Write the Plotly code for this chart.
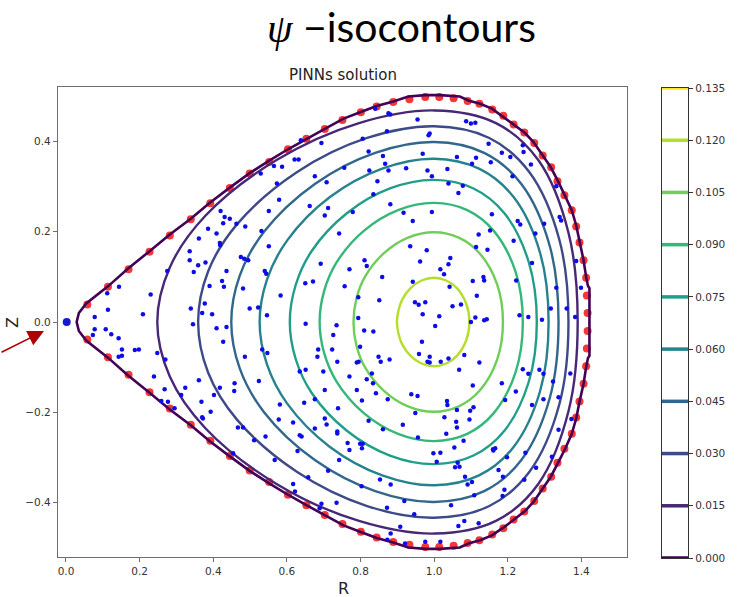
import plotly.graph_objects as go

# ---------------- data ----------------
# contour levels of psi (colour scale spans 0 .. 0.135)
LEVELS = [0.0, 0.015, 0.030, 0.045, 0.060, 0.075, 0.090, 0.105, 0.120, 0.135]
LEVEL_COLORS = ["#440154", "#472877", "#3e4a88", "#31678d", "#26838e",
                "#209e88", "#35b779", "#6ece58", "#b5de2b", "#fde725"]
CBAR_TICKS = ["0.000", "0.015", "0.030", "0.045", "0.060",
              "0.075", "0.090", "0.105", "0.120", "0.135"]

# psi = 0 boundary, upper half (right mid-plane -> top -> left tip)
BND_R = [1.422, 1.422, 1.418, 1.413, 1.406, 1.395, 1.386, 1.374, 1.356, 1.338,
         1.317, 1.293, 1.270, 1.247, 1.216, 1.188, 1.157, 1.125, 1.093, 1.070,
         1.016, 0.976, 0.930, 0.889, 0.844, 0.799, 0.754, 0.703, 0.653, 0.603,
         0.551, 0.499, 0.445, 0.390, 0.339, 0.282, 0.227, 0.168, 0.114, 0.055,
         0.035, 0.029]
BND_Z = [0.000, 0.075, 0.080, 0.100, 0.137, 0.177, 0.214, 0.248, 0.281, 0.310,
         0.343, 0.373, 0.399, 0.419, 0.438, 0.456, 0.473, 0.484, 0.491, 0.500,
         0.503, 0.503, 0.500, 0.489, 0.479, 0.465, 0.451, 0.428, 0.406, 0.383,
         0.357, 0.330, 0.298, 0.264, 0.229, 0.194, 0.157, 0.118, 0.079, 0.041,
         0.020, 0.000]

# inner iso-psi curves (levels 0.015 .. 0.120), upper half, right -> top -> left
CONTOUR_R = [
    [1.390, 1.365, 1.283, 1.168, 1.002, 0.796, 0.572, 0.378, 0.282, 0.248],
    [1.365, 1.340, 1.259, 1.150, 1.000, 0.818, 0.627, 0.465, 0.386, 0.359],
    [1.338, 1.314, 1.237, 1.136, 1.000, 0.840, 0.676, 0.538, 0.472, 0.449],
    [1.311, 1.288, 1.216, 1.122, 1.000, 0.859, 0.717, 0.601, 0.546, 0.526],
    [1.279, 1.257, 1.191, 1.107, 1.000, 0.880, 0.763, 0.668, 0.624, 0.608],
    [1.241, 1.221, 1.162, 1.090, 1.000, 0.902, 0.809, 0.735, 0.701, 0.689],
    [1.187, 1.171, 1.124, 1.067, 1.000, 0.929, 0.863, 0.812, 0.789, 0.781],
    [1.096, 1.087, 1.062, 1.033, 1.000, 0.966, 0.936, 0.913, 0.903, 0.899],
]
CONTOUR_Z = [
    [0.000, 0.198, 0.359, 0.441, 0.469, 0.441, 0.359, 0.235, 0.121, 0.000],
    [0.000, 0.183, 0.332, 0.408, 0.434, 0.408, 0.332, 0.217, 0.112, 0.000],
    [0.000, 0.169, 0.306, 0.375, 0.399, 0.375, 0.306, 0.200, 0.103, 0.000],
    [0.000, 0.153, 0.277, 0.340, 0.362, 0.340, 0.277, 0.181, 0.094, 0.000],
    [0.000, 0.133, 0.241, 0.296, 0.315, 0.296, 0.241, 0.158, 0.082, 0.000],
    [0.000, 0.112, 0.202, 0.248, 0.264, 0.248, 0.202, 0.132, 0.068, 0.000],
    [0.000, 0.084, 0.152, 0.187, 0.199, 0.187, 0.152, 0.100, 0.052, 0.000],
    [0.000, 0.041, 0.075, 0.092, 0.098, 0.092, 0.075, 0.049, 0.025, 0.000],
]

# boundary collocation points (upper half, mirrored for the lower half)
BC_R = [0.058, 0.114, 0.170, 0.227, 0.282, 0.339, 0.392, 0.445, 0.499, 0.552,
        0.603, 0.653, 0.703, 0.751, 0.801, 0.844, 0.889, 0.933, 0.976, 1.014,
        1.053, 1.091, 1.123, 1.158, 1.188, 1.216, 1.245, 1.272, 1.295, 1.318,
        1.335, 1.354, 1.374, 1.386, 1.395, 1.406, 1.413, 1.415, 1.417]
BC_Z = [0.039, 0.078, 0.117, 0.156, 0.192, 0.228, 0.263, 0.297, 0.329, 0.355,
        0.383, 0.406, 0.428, 0.448, 0.465, 0.478, 0.488, 0.494, 0.499, 0.499,
        0.496, 0.490, 0.484, 0.471, 0.457, 0.438, 0.420, 0.397, 0.369, 0.343,
        0.312, 0.281, 0.248, 0.212, 0.176, 0.137, 0.098, 0.059, 0.020]

# interior collocation points
COL_R = [
    0.638, 0.694, 0.621, 0.632, 0.565, 0.587, 0.529, 0.573, 0.756, 0.676,
    0.708, 0.579, 0.662, 0.712, 0.703, 0.551, 0.420, 0.431, 0.427, 0.445,
    0.463, 0.487, 0.386, 0.409, 0.361, 0.418, 0.419, 0.531, 0.551, 0.742,
    0.336, 0.475, 0.484, 0.495, 0.336, 0.359, 0.379, 0.347, 0.436, 0.540,
    0.544, 0.692, 0.275, 0.144, 0.112, 0.230, 0.390, 0.429, 0.424, 0.481,
    0.650, 0.671, 0.583, 0.757, 0.114, 0.078, 0.209, 0.339, 0.377, 0.370,
    0.397, 0.499, 0.522, 0.546, 0.651, 0.735, 0.345, 0.436,
    0.840, 0.876, 0.881, 0.955, 1.087, 1.100, 1.112, 0.988, 0.985, 0.872,
    0.806, 0.822, 0.861, 0.969, 1.148, 1.184, 1.241, 1.243, 1.207, 1.114,
    1.062, 1.103, 1.154, 0.824, 0.867, 0.876, 0.924, 0.982, 1.036, 0.994,
    0.846, 1.213, 1.263, 1.039, 1.078, 1.066, 1.332, 0.835, 0.881, 0.779,
    0.917, 0.994, 1.157, 0.942, 1.341, 1.345, 1.227, 1.234, 1.299, 1.152,
    1.121, 1.275, 1.216, 1.114, 1.145, 0.935, 0.980, 0.811, 0.817, 0.962,
    1.044, 1.039, 1.017, 0.770, 1.266, 1.386, 0.859, 0.942, 1.027, 1.105,
    1.134, 1.136, 1.223, 1.332, 0.794, 0.851, 1.042, 1.116, 0.948, 0.958,
    0.976, 1.050, 1.073, 0.969, 1.014, 0.794, 1.112, 1.143, 1.136, 1.232,
    1.256, 1.317, 1.360, 1.293, 1.399, 1.383, 1.003, 1.100,
    0.078, 0.108, 0.123, 0.073, 0.143, 0.152, 0.152, 0.143, 0.187, 0.198,
    0.248, 0.270, 0.409, 0.427, 0.486, 0.533, 0.547, 0.685, 0.723, 0.726,
    0.683, 0.737, 0.635, 0.651, 0.699, 0.239, 0.361, 0.458, 0.418, 0.324,
    0.524, 0.676, 0.703, 0.647, 0.739, 0.268, 0.457, 0.402, 0.313, 0.259,
    0.277, 0.295, 0.368, 0.581, 0.370, 0.372, 0.393, 0.467, 0.481, 0.511,
    0.542, 0.635, 0.640, 0.578, 0.617, 0.703, 0.708, 0.737, 0.737, 0.676,
    0.629, 0.567, 0.658, 0.712, 0.742, 0.454, 0.617, 0.622, 0.694, 0.689,
    0.735,
    0.835, 0.810, 0.799, 0.790, 0.795, 0.849, 0.879, 0.855, 0.770, 0.817,
    0.831, 0.834, 0.790, 0.842, 0.874, 0.804, 0.938, 0.955, 0.967, 0.959,
    0.988, 0.982, 0.988, 1.018, 1.039, 1.082, 1.068, 1.123, 1.105, 1.184,
    1.241, 1.256, 1.286, 1.297, 1.323, 1.370, 1.193, 1.222, 1.266, 1.297,
    1.338, 1.035, 1.036, 1.062, 1.098, 1.107, 1.096, 1.060, 1.062, 1.028,
    0.949, 0.915, 0.822, 0.861, 0.765, 0.799, 0.806, 0.770, 0.804, 0.956,
    1.033, 1.080, 1.055, 0.998, 1.017, 1.007, 1.064, 1.069, 1.057, 1.084,
    1.091, 1.103, 1.160, 1.166, 1.161, 1.198, 1.175, 1.187, 1.248, 1.277,
    1.245, 1.338, 1.373, 1.320, 0.803, 0.853, 0.882, 0.919, 0.872, 0.946,
    0.908, 0.882, 0.873, 0.921, 0.976, 1.017, 1.066, 1.082, 1.121, 1.046,
    1.109, 1.186, 1.191,
]
COL_Z = [
    0.403, 0.397, 0.360, 0.360, 0.346, 0.344, 0.329, 0.307, 0.342, 0.323,
    0.310, 0.271, 0.257, 0.253, 0.236, 0.246, 0.246, 0.233, 0.219, 0.229,
    0.218, 0.212, 0.207, 0.196, 0.185, 0.175, 0.170, 0.202, 0.168, 0.196,
    0.157, 0.144, 0.140, 0.137, 0.137, 0.126, 0.132, 0.111, 0.113, 0.113,
    0.107, 0.129, 0.113, 0.078, 0.064, 0.061, 0.080, 0.078, 0.091, 0.074,
    0.086, 0.090, 0.059, 0.079, 0.027, 0.011, 0.017, 0.030, 0.041, 0.020,
    0.017, 0.030, 0.032, 0.015, -0.004, -0.007, -0.005, -0.011,
    0.473, 0.463, 0.460, 0.449, 0.445, 0.440, 0.442, 0.418, 0.414, 0.423,
    0.406, 0.378, 0.368, 0.373, 0.395, 0.375, 0.392, 0.377, 0.366, 0.364,
    0.366, 0.351, 0.354, 0.336, 0.351, 0.336, 0.341, 0.336, 0.339, 0.323,
    0.312, 0.323, 0.349, 0.307, 0.302, 0.286, 0.301, 0.283, 0.261, 0.244,
    0.242, 0.244, 0.239, 0.224, 0.233, 0.225, 0.224, 0.216, 0.218, 0.203,
    0.194, 0.196, 0.180, 0.166, 0.160, 0.168, 0.159, 0.137, 0.124, 0.134,
    0.142, 0.128, 0.117, 0.117, 0.131, 0.135, 0.100, 0.089, 0.106, 0.091,
    0.100, 0.092, 0.092, 0.076, 0.055, 0.048, 0.078, 0.058, 0.044, 0.038,
    0.044, 0.035, 0.039, 0.017, 0.013, 0.009, 0.010, 0.006, 0.004, 0.015,
    0.011, 0.030, 0.030, 0.005, 0.076, 0.011, -0.009, 0.000,
    -0.016, -0.016, -0.027, -0.029, -0.036, -0.061, -0.075, -0.077, -0.062, -0.061,
    -0.069, -0.083, -0.014, -0.044, -0.077, -0.061, -0.069, -0.061, -0.061, -0.029,
    -0.077, -0.088, -0.110, -0.106, -0.110, -0.121, -0.129, -0.136, -0.146, -0.146,
    -0.131, -0.171, -0.151, -0.179, -0.191, -0.149, -0.153, -0.162, -0.162, -0.175,
    -0.177, -0.191, -0.177, -0.183, -0.211, -0.214, -0.199, -0.234, -0.234, -0.262,
    -0.254, -0.251, -0.254, -0.216, -0.223, -0.214, -0.227, -0.243, -0.247, -0.236,
    -0.286, -0.306, -0.344, -0.330, -0.306, -0.291, -0.359, -0.376, -0.403, -0.413,
    -0.401,
    -0.021, -0.019, -0.055, -0.090, -0.088, -0.077, -0.083, -0.088, -0.121, -0.127,
    -0.114, -0.136, -0.151, -0.158, -0.171, -0.174, -0.160, -0.164, -0.044, -0.071,
    -0.077, -0.088, -0.090, -0.088, -0.081, -0.073, -0.106, -0.090, -0.141, -0.136,
    -0.105, -0.115, -0.106, -0.115, -0.132, -0.114, -0.173, -0.154, -0.184, -0.171,
    -0.167, -0.175, -0.184, -0.195, -0.197, -0.189, -0.216, -0.221, -0.234, -0.211,
    -0.202, -0.228, -0.219, -0.238, -0.268, -0.270, -0.270, -0.284, -0.280, -0.256,
    -0.248, -0.263, -0.278, -0.291, -0.290, -0.310, -0.312, -0.321, -0.322, -0.343,
    -0.360, -0.355, -0.282, -0.280, -0.285, -0.300, -0.328, -0.343, -0.290, -0.323,
    -0.350, -0.239, -0.215, -0.299, -0.364, -0.349, -0.360, -0.397, -0.412, -0.426,
    -0.454, -0.469, -0.483, -0.491, -0.487, -0.487, -0.452, -0.441, -0.446, -0.406,
    -0.384, -0.386, -0.372,
]

# axis-point marker at the left tip
TIP_R = [0.002]
TIP_Z = [0.0]

X_TICKS = [0.0, 0.2, 0.4, 0.6, 0.8, 1.0, 1.2, 1.4]
Y_TICKS = [-0.4, -0.2, 0.0, 0.2, 0.4]

# ---------------- figure ----------------
W, H = 742, 597
px = lambda v: v / W
py = lambda v: 1 - v / H

fig = go.Figure()


def closed_curve(r_half, z_half):
    r = list(r_half) + list(reversed(r_half))[1:]
    z = list(z_half) + [-v for v in reversed(z_half)][1:]
    return r, z


# boundary collocation points (under the boundary curve)
fig.add_trace(go.Scatter(
    x=BC_R + BC_R, y=BC_Z + [-v for v in BC_Z], mode="markers",
    marker=dict(size=8, color="rgba(245,20,20,0.85)", line=dict(width=0)),
    hoverinfo="skip", showlegend=False))

# psi = 0 boundary
br, bz = closed_curve(BND_R, BND_Z)
fig.add_trace(go.Scatter(x=br, y=bz, mode="lines",
                         line=dict(color=LEVEL_COLORS[0], width=2.6),
                         hoverinfo="skip", showlegend=False))

# interior iso-psi lines
for i, (cr, cz) in enumerate(zip(CONTOUR_R, CONTOUR_Z)):
    r, z = closed_curve(cr, cz)
    fig.add_trace(go.Scatter(x=r, y=z, mode="lines",
                             line=dict(color=LEVEL_COLORS[i + 1], width=2.4,
                                       shape="spline", smoothing=1.0),
                             hoverinfo="skip", showlegend=False))

# interior collocation points
fig.add_trace(go.Scatter(x=COL_R, y=COL_Z, mode="markers",
                         marker=dict(size=4.5, color="#0c0ce8", line=dict(width=0)),
                         hoverinfo="skip", showlegend=False))
fig.add_trace(go.Scatter(x=TIP_R, y=TIP_Z, mode="markers",
                         marker=dict(size=8, color="#1818cc", line=dict(width=0)),
                         hoverinfo="skip", showlegend=False))

# colour bar drawn as a small axes with one line per level
for lvl, col in zip(LEVELS, LEVEL_COLORS):
    fig.add_trace(go.Scatter(x=[0, 1], y=[lvl, lvl], mode="lines",
                             line=dict(color=col, width=3.5),
                             xaxis="x2", yaxis="y2",
                             hoverinfo="skip", showlegend=False))

tick_font = dict(family="DejaVu Sans", size=10.5, color="#333333")


def label(text, x, y, size, family="DejaVu Sans", color="#222222", **kw):
    return dict(text=text, x=px(x), y=py(y), xref="paper", yref="paper",
                xanchor="center", yanchor="middle", showarrow=False,
                font=dict(family=family, size=size, color=color), **kw)


fig.update_layout(
    width=W, height=H,
    margin=dict(l=0, r=0, t=0, b=0, pad=0, autoexpand=False),
    paper_bgcolor="white", plot_bgcolor="white",
    xaxis=dict(domain=[px(58), px(627)], range=[-0.0217, 1.524],
               tickvals=X_TICKS, ticktext=[f"{v:.1f}" for v in X_TICKS],
               showgrid=False, zeroline=False, automargin=False,
               showline=True, mirror=True, linecolor="#6e6e6e", linewidth=1.2,
               ticks="outside", ticklen=4, tickcolor="#6e6e6e",
               tickfont=tick_font),
    yaxis=dict(domain=[py(557), py(87)], range=[-0.521, 0.521],
               tickvals=Y_TICKS, ticktext=[f"{v:.1f}".replace("-", "\u2212") for v in Y_TICKS],
               showgrid=False, zeroline=False, automargin=False,
               showline=True, mirror=True, linecolor="#6e6e6e", linewidth=1.2,
               ticks="outside", ticklen=4, tickcolor="#6e6e6e",
               tickfont=tick_font),
    xaxis2=dict(domain=[px(662), px(688)], range=[0, 1], anchor="y2",
                showticklabels=False, ticks="", showgrid=False, zeroline=False,
                automargin=False,
                showline=True, mirror=True, linecolor="#333333", linewidth=1.2),
    yaxis2=dict(domain=[py(558), py(88)], range=[0, 0.135], anchor="x2",
                side="right", tickvals=LEVELS, ticktext=CBAR_TICKS,
                showgrid=False, zeroline=False, automargin=False,
                showline=True, mirror=True, linecolor="#333333", linewidth=1.2,
                ticks="outside", ticklen=4, tickcolor="#333333",
                tickfont=tick_font),
    annotations=[
        label("<span style=\"font-family:'Liberation Serif'\"><i>ψ</i></span> −isocontours",
              401, 27, 41, family="Lato", color="black"),
        label("PINNs solution", 342.5, 75, 15),
        label("R", 343, 588, 16),
        label("Z", 12, 323, 16, textangle=-90),
        dict(text="", x=px(44), y=py(331), xref="paper", yref="paper",
             showarrow=True, ax=-46, ay=22, arrowhead=2, arrowsize=2.0,
             arrowwidth=1.6, arrowcolor="#b00000"),
    ],
)

fig.write_html("out.html")
